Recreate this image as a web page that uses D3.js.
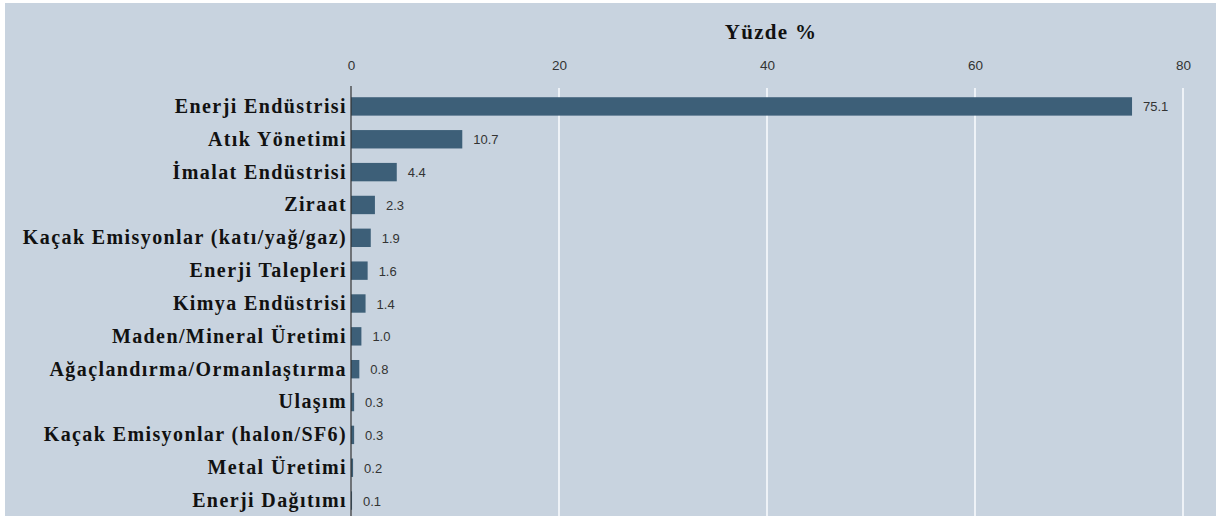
<!DOCTYPE html>
<html>
<head>
<meta charset="utf-8">
<script src="https://cdn.jsdelivr.net/npm/d3@7"></script>
<style>
  html, body { margin: 0; padding: 0; background: #ffffff; }
  svg { display: block; }
</style>
</head>
<body>
<svg id="chart" width="1228" height="516"></svg>
<script>
const categories = [
  "Enerji Endüstrisi",
  "Atık Yönetimi",
  "İmalat Endüstrisi",
  "Ziraat",
  "Kaçak Emisyonlar (katı/yağ/gaz)",
  "Enerji Talepleri",
  "Kimya Endüstrisi",
  "Maden/Mineral Üretimi",
  "Ağaçlandırma/Ormanlaştırma",
  "Ulaşım",
  "Kaçak Emisyonlar (halon/SF6)",
  "Metal Üretimi",
  "Enerji Dağıtımı"
];
const values = [75.1, 10.7, 4.4, 2.3, 1.9, 1.6, 1.4, 1.0, 0.8, 0.3, 0.3, 0.2, 0.1];
const valueLabels = ["75.1", "10.7", "4.4", "2.3", "1.9", "1.6", "1.4", "1.0", "0.8", "0.3", "0.3", "0.2", "0.1"];
const tickValues = [0, 20, 40, 60, 80];
const axisTitle = "Yüzde %";

(function () {
const svg = d3.select("#chart");
const W = 1228, H = 516;

svg.append("rect")
  .attr("x", 5).attr("y", 3)
  .attr("width", 1211).attr("height", H - 3)
  .attr("fill", "#c8d3df");

const pL = 351, pR = 1183, pT = 87;

const x = d3.scaleLinear().domain([0, 80]).range([pL, pR]);
const y = d3.scaleBand().domain(categories).range([90, 517]).paddingInner(0.44).paddingOuter(0.22);

svg.append("g")
  .selectAll("line")
  .data(tickValues.filter(d => d > 0))
  .join("line")
  .attr("x1", d => x(d)).attr("x2", d => x(d))
  .attr("y1", pT + 1).attr("y2", H)
  .attr("stroke", "#eef2f7")
  .attr("stroke-width", 2);

const axisTop = d3.axisTop(x).tickValues(tickValues).tickSize(0).tickPadding(0).tickFormat(d3.format("d"));
const gx = svg.append("g").attr("transform", `translate(0,70)`).call(axisTop);
gx.select(".domain").remove();
gx.selectAll("text")
  .attr("font-family", "Liberation Sans, Arial, sans-serif")
  .attr("font-size", 13.5)
  .attr("fill", "#333");

svg.append("text")
  .attr("x", 771).attr("y", 39)
  .attr("text-anchor", "middle")
  .attr("font-family", "Liberation Serif, Times New Roman, serif")
  .attr("font-weight", "bold")
  .attr("font-size", 21)
  .attr("letter-spacing", "1.3px")
  .attr("fill", "#111")
  .text(axisTitle);

svg.append("g")
  .selectAll("rect")
  .data(values)
  .join("rect")
  .attr("x", x(0))
  .attr("y", (d, i) => y(categories[i]))
  .attr("width", d => x(d) - x(0))
  .attr("height", y.bandwidth())
  .attr("fill", "#3d5f78");

svg.append("g")
  .selectAll("text")
  .data(values)
  .join("text")
  .attr("x", d => x(d) + 11)
  .attr("y", (d, i) => y(categories[i]) + y.bandwidth() / 2 + 5)
  .attr("font-family", "Liberation Sans, Arial, sans-serif")
  .attr("font-size", 13)
  .attr("fill", "#333")
  .text((d, i) => valueLabels[i]);

const axisLeft = d3.axisLeft(y).tickSize(0).tickPadding(4);
const gy = svg.append("g").attr("transform", `translate(${pL},0)`).call(axisLeft);
gy.select(".domain").remove();
gy.selectAll("text")
  .attr("font-family", "Liberation Serif, Times New Roman, serif")
  .attr("font-weight", "bold")
  .attr("font-size", 20)
  .attr("letter-spacing", "1.4px")
  .attr("fill", "#111");

svg.append("line")
  .attr("x1", pL).attr("x2", pL)
  .attr("y1", pT - 1).attr("y2", H)
  .attr("stroke", "#333")
  .attr("stroke-width", 1.2);
})();
</script>
</body>
</html>
